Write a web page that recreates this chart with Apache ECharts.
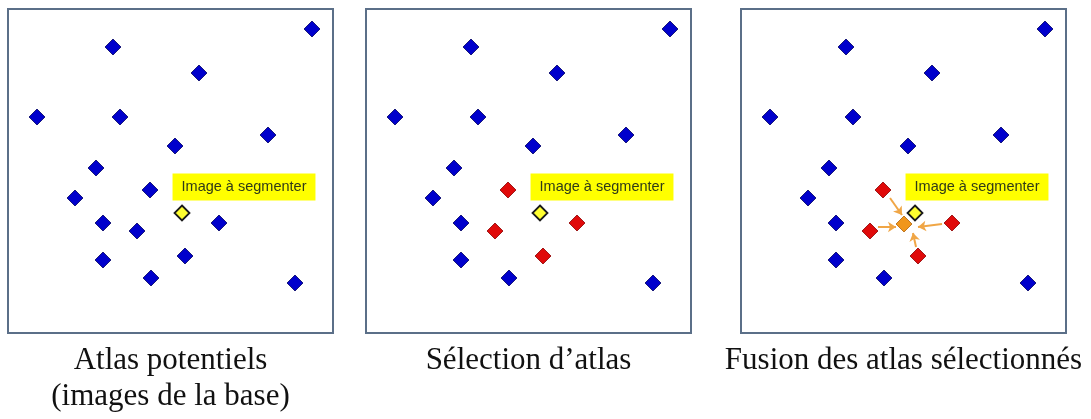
<!DOCTYPE html>
<html>
<head>
<meta charset="utf-8">
<script src="https://cdn.jsdelivr.net/npm/echarts@6/dist/echarts.min.js"></script>
<style>
  html, body { margin: 0; padding: 0; background: #ffffff; }
  #chart { width: 1091px; height: 419px; }
</style>
</head>
<body>
<div id="chart"></div>
<script>
// ---- data (coordinates measured inside each panel, 0..325 x, 0..324 y from top) ----
const otherAtlas = [[304,20],[105,38],[191,64],[29,108],[112,108],[260,126],[167,137],[88,159],[67,189],[95,214],[95,251],[143,269],[287,274]];
const selectedAtlas = [[142,181],[211,214],[129,222],[177,247]];
const targetImage = [[174,204]];
const fusedAtlas = [[163,215]];
const fusionArrowStarts = [[149,189],[137,218],[201,215],[175,238]];
const fusionArrowEnds = [[161,206],[155,218],[177,218],[172,224]];
const targetLabel = 'Image à segmenter';
const panelCaptions = [['Atlas potentiels', '(images de la base)'], ['Sélection d\u2019atlas'], ['Fusion des atlas sélectionnés']];

const panelLefts = [8, 366, 741];
const panelTop = 9, panelW = 325, panelH = 324;

const chart = echarts.init(document.getElementById('chart'), null, { renderer: 'canvas' });

const grids = [], xAxes = [], yAxes = [];
panelLefts.forEach((l, i) => {
  grids.push({ left: l, top: panelTop, width: panelW, height: panelH, show: true,
    borderColor: '#5b6f88', borderWidth: 2, backgroundColor: '#ffffff' });
  xAxes.push({ type: 'value', gridIndex: i, min: 0, max: 325, show: false });
  yAxes.push({ type: 'value', gridIndex: i, min: 0, max: 324, inverse: true, show: false });
});

const blueStyle = { color: '#0000cc', borderColor: '#000060', borderWidth: 0.8, opacity: 1 };
const redStyle = { color: '#e00a0a', borderColor: '#8a0000', borderWidth: 0.8, opacity: 1 };
const yellowStyle = { color: '#ffff30', borderColor: '#1a1a1a', borderWidth: 1.8, opacity: 1 };
const orangeStyle = { color: '#f0961c', borderColor: '#b06208', borderWidth: 0.8, opacity: 1 };

function scatter(i, data, style, size, extra) {
  return Object.assign({
    type: 'scatter', xAxisIndex: i, yAxisIndex: i, data: data,
    symbol: 'diamond', symbolSize: size, itemStyle: style,
    emphasis: { disabled: true }, silent: true
  }, extra || {});
}

const targetLabelCfg = {
  show: true, position: 'top', distance: 4, offset: [62, 0],
  formatter: targetLabel,
  backgroundColor: '#ffff00',
  padding: [6, 9, 6, 9], lineHeight: 15,
  fontFamily: 'Liberation Sans, Arial, sans-serif', fontSize: 14.5,
  color: '#2f3a18'
};

const series = [];
// Panel 1
series.push(scatter(0, otherAtlas.concat(selectedAtlas), blueStyle, 16));
series.push(scatter(0, targetImage, yellowStyle, 15, { label: targetLabelCfg, z: 3 }));
// Panel 2
series.push(scatter(1, otherAtlas, blueStyle, 16));
series.push(scatter(1, selectedAtlas, redStyle, 16));
series.push(scatter(1, targetImage, yellowStyle, 15, { label: targetLabelCfg, z: 3 }));
// Panel 3
series.push(scatter(2, otherAtlas, blueStyle, 16));
series.push(scatter(2, selectedAtlas, redStyle, 16));
series.push({
  type: 'lines', coordinateSystem: 'cartesian2d', xAxisIndex: 2, yAxisIndex: 2,
  data: fusionArrowStarts.map((s, k) => ({ coords: [s, fusionArrowEnds[k]] })),
  symbol: ['none', 'arrow'], symbolSize: 8,
  lineStyle: { color: '#f0a646', width: 2, opacity: 1 }, silent: true, z: 2
});
series.push(scatter(2, fusedAtlas, orangeStyle, 16, { z: 3 }));
series.push(scatter(2, targetImage, yellowStyle, 15, { label: targetLabelCfg, z: 3 }));

const graphics = [];
panelCaptions.forEach((lines, i) => {
  lines.forEach((t, j) => {
    graphics.push({
      type: 'text', x: panelLefts[i] + panelW / 2, y: 361 + j * 36,
      style: { text: t, x: 0, y: 0, align: 'center', verticalAlign: 'middle',
        fontFamily: 'Liberation Serif, Times New Roman, serif', fontSize: 31, fill: '#111111' },
      silent: true
    });
  });
});

chart.setOption({
  animation: false,
  backgroundColor: '#ffffff',
  grid: grids, xAxis: xAxes, yAxis: yAxes,
  series: series,
  graphic: graphics
});
</script>
</body>
</html>
